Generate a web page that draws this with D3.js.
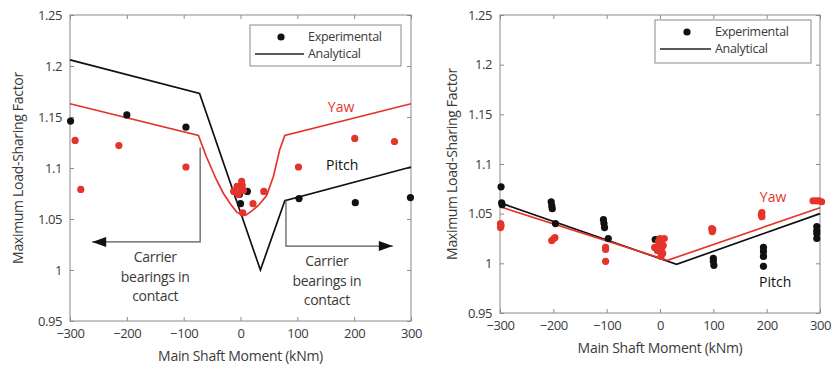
<!DOCTYPE html>
<html>
<head>
<meta charset="utf-8">
<script src="https://cdn.jsdelivr.net/npm/d3@7"></script>
<style>
  body { margin: 0; background: #fff; }
  svg text { font-family: "Open Sans", "Noto Sans", sans-serif; fill: #3a3a3a; }
</style>
</head>
<body>
<svg id="chart" width="840" height="366"></svg>
<script>
// shared axes
const xTicks = [-300, -200, -100, 0, 100, 200, 300];
const yTicks = [0.95, 1, 1.05, 1.1, 1.15, 1.2, 1.25];
const yTickLabels = ["0.95", "1", "1.05", "1.1", "1.15", "1.2", "1.25"];
const legendLabels = ["Experimental", "Analytical"];
const noteLines = ["Carrier", "bearings in", "contact"];

// left panel: analytical curves [moment, factor]
const leftPitchModel = [[-300, 1.206], [-72, 1.173], [35, 1.0], [78, 1.068], [300, 1.101]];
const leftYawModel = [[-300, 1.163], [-74, 1.132], [-60, 1.111], [-42, 1.088], [-30, 1.075], [-18, 1.065],
  [-7, 1.057], [2, 1.054], [10, 1.054], [20, 1.058], [31, 1.063], [46, 1.073], [58, 1.092],
  [69, 1.118], [78, 1.132], [300, 1.163]];
// left panel: experimental points
const leftPitchExp = [[-299, 1.146], [-200, 1.152], [-96, 1.140], [0, 1.065], [12, 1.077], [-2, 1.074],
  [103, 1.070], [202, 1.066], [299, 1.071]];
const leftYawExp = [[-291, 1.127], [-281, 1.079], [-214, 1.122], [-96, 1.101], [-12, 1.077], [-4, 1.074],
  [-6, 1.082], [0, 1.080], [2, 1.087], [3, 1.083], [5, 1.078], [4, 1.056], [22, 1.065], [41, 1.077],
  [102, 1.101], [201, 1.129], [271, 1.126]];

// right panel
const rightPitchModel = [[-300, 1.061], [31, 0.999], [300, 1.050]];
const rightYawModel = [[-300, 1.057], [14, 1.003], [300, 1.056]];
const rightPitchExp = [[-298, 1.077], [-297, 1.061], [-296, 1.059], [-204, 1.062], [-203, 1.058],
  [-202, 1.055], [-196, 1.040], [-106, 1.044], [-105, 1.040], [-104, 1.036], [-97, 1.025],
  [-9, 1.024], [0, 1.018], [100, 1.005], [100, 1.002], [101, 0.998], [194, 1.016], [194, 1.012],
  [194, 1.007], [194, 0.997], [294, 1.037], [294, 1.033], [294, 1.030], [294, 1.025]];
const rightYawExp = [[-299, 1.040], [-299, 1.036], [-298, 1.038], [-203, 1.023], [-199, 1.025],
  [-197, 1.026], [-102, 1.016], [-102, 1.014], [-102, 1.002], [-10, 1.016], [-5, 1.013], [0, 1.025],
  [0, 1.020], [3, 1.015], [5, 1.010], [8, 1.025], [2, 1.007], [-3, 1.022], [6, 1.018], [97, 1.035],
  [98, 1.032], [99, 1.034], [190, 1.049], [191, 1.047], [191, 1.051], [287, 1.063], [293, 1.063],
  [298, 1.063], [303, 1.062]];

const RED = "#e5342b";
const BLACK = "#111";
const svg = d3.select("#chart");

function drawPanel(cfg) {
  const x = d3.scaleLinear().domain([-300, 300]).range([cfg.left, cfg.right]);
  const y = d3.scaleLinear().domain([0.95, 1.25]).range([cfg.bottom, cfg.top]);
  const g = svg.append("g");

  // box + inward ticks on all four sides
  g.append("rect").attr("x", cfg.left).attr("y", cfg.top)
    .attr("width", cfg.right - cfg.left).attr("height", cfg.bottom - cfg.top)
    .attr("fill", "none").attr("stroke", "#8a8a8a").attr("stroke-width", 1);

  const tk = 4;
  const axB = d3.axisBottom(x).tickValues(xTicks).tickSizeInner(-tk).tickSizeOuter(0).tickPadding(8);
  const axT = d3.axisTop(x).tickValues(xTicks).tickSizeInner(-tk).tickSizeOuter(0).tickFormat("");
  const axL = d3.axisLeft(y).tickValues(yTicks).tickSizeInner(-tk).tickSizeOuter(0).tickPadding(8)
    .tickFormat((d, i) => yTickLabels[i]);
  const axR = d3.axisRight(y).tickValues(yTicks).tickSizeInner(-tk).tickSizeOuter(0).tickFormat("");

  [[axB, `translate(0,${cfg.bottom})`], [axT, `translate(0,${cfg.top})`],
   [axL, `translate(${cfg.left},0)`], [axR, `translate(${cfg.right},0)`]].forEach(([ax, tr]) => {
    const a = g.append("g").attr("transform", tr).call(ax);
    a.select(".domain").remove();
    a.selectAll("line").attr("stroke", "#8a8a8a");
    a.selectAll("text").attr("font-size", 13).attr("fill", "#3a3a3a")
      .style("font-family", '"Open Sans", sans-serif').attr("letter-spacing", -0.4);
  });

  // axis titles
  g.append("text").attr("x", (cfg.left + cfg.right) / 2).attr("y", cfg.bottom + 40)
    .attr("text-anchor", "middle").attr("font-size", 14).attr("letter-spacing", -0.3)
    .text("Main Shaft Moment (kNm)");
  g.append("text")
    .attr("transform", `translate(${cfg.yTitleX},${(cfg.top + cfg.bottom) / 2}) rotate(-90)`)
    .attr("text-anchor", "middle").attr("dy", "0.35em").attr("font-size", 14).attr("letter-spacing", -0.3)
    .text("Maximum Load-Sharing Factor");

  // analytical lines
  const line = d3.line().x(d => x(d[0])).y(d => y(d[1]));
  g.append("path").datum(cfg.pitchModel).attr("d", line)
    .attr("fill", "none").attr("stroke", BLACK).attr("stroke-width", 1.7);
  g.append("path").datum(cfg.yawModel).attr("d", line)
    .attr("fill", "none").attr("stroke", RED).attr("stroke-width", 1.7);

  // experimental points
  g.append("g").selectAll("circle").data(cfg.pitchExp).join("circle")
    .attr("cx", d => x(d[0])).attr("cy", d => y(d[1])).attr("r", 3.6).attr("fill", BLACK);
  g.append("g").selectAll("circle").data(cfg.yawExp).join("circle")
    .attr("cx", d => x(d[0])).attr("cy", d => y(d[1])).attr("r", 3.6).attr("fill", RED);

  // series labels
  g.append("text").attr("x", x(cfg.yawLabel[0])).attr("y", y(cfg.yawLabel[1])).attr("dy", "0.35em")
    .attr("text-anchor", "middle").attr("font-size", 14).style("fill", RED).text("Yaw");
  g.append("text").attr("x", x(cfg.pitchLabel[0])).attr("y", y(cfg.pitchLabel[1])).attr("dy", "0.35em")
    .attr("text-anchor", "middle").attr("font-size", 14).style("fill", BLACK).text("Pitch");

  // legend
  const L = cfg.legend;
  g.append("rect").attr("x", L.x).attr("y", L.y).attr("width", L.w).attr("height", L.h)
    .attr("fill", "#fff").attr("stroke", "#8a8a8a").attr("stroke-width", 1);
  g.append("circle").attr("cx", L.dotX).attr("cy", L.y + 12).attr("r", 3.6).attr("fill", BLACK);
  g.append("line").attr("x1", L.x + 5).attr("x2", L.textX - 4)
    .attr("y1", L.y + 29).attr("y2", L.y + 29).attr("stroke", "#222").attr("stroke-width", 1.7);
  legendLabels.forEach((t, i) => {
    g.append("text").attr("x", L.textX).attr("y", L.y + 12 + i * 17).attr("dy", "0.35em")
      .attr("font-size", 12.5).attr("letter-spacing", -0.3).text(t);
  });

  return { g, x, y };
}

function arrowNote(g, x, y, n) {
  const pts = [[x(n.x0), y(n.yTop)], [x(n.x0), y(n.yBar)], [x(n.x1), y(n.yBar)]];
  g.append("path").attr("d", d3.line()(pts)).attr("fill", "none")
    .attr("stroke", "#555").attr("stroke-width", 1.2);
  const tipX = x(n.x1), tipY = y(n.yBar), dir = n.x1 < n.x0 ? 1 : -1;
  g.append("path")
    .attr("d", `M${tipX},${tipY} L${tipX + dir * 14},${tipY - 5} L${tipX + dir * 14},${tipY + 5} Z`)
    .attr("fill", "#111");
  noteLines.forEach((t, i) => {
    g.append("text").attr("x", x(n.textX)).attr("y", y(n.textY) + i * 19.5).attr("dy", "0.35em")
      .attr("text-anchor", "middle").attr("font-size", 14).attr("letter-spacing", -0.3).text(t);
  });
}

const left = drawPanel({
  left: 70, right: 411, top: 15, bottom: 321, yTitleX: 18,
  pitchModel: leftPitchModel, yawModel: leftYawModel,
  pitchExp: leftPitchExp, yawExp: leftYawExp,
  yawLabel: [177, 1.160], pitchLabel: [179, 1.103],
  legend: { x: 250, y: 25, w: 151, h: 41, dotX: 281, textX: 308 }
});
arrowNote(left.g, left.x, left.y, { x0: -71, x1: -261, yTop: 1.12, yBar: 1.0275, textX: -150, textY: 1.0125 });
arrowNote(left.g, left.x, left.y, { x0: 80, x1: 268, yTop: 1.069, yBar: 1.0235, textX: 152, textY: 1.0085 });

drawPanel({
  left: 500, right: 820, top: 15, bottom: 313, yTitleX: 452,
  pitchModel: rightPitchModel, yawModel: rightYawModel,
  pitchExp: rightPitchExp, yawExp: rightYawExp,
  yawLabel: [212, 1.067], pitchLabel: [216, 0.981],
  legend: { x: 655, y: 20, w: 156, h: 43, dotX: 687, textX: 715 }
});
</script>
</body>
</html>
